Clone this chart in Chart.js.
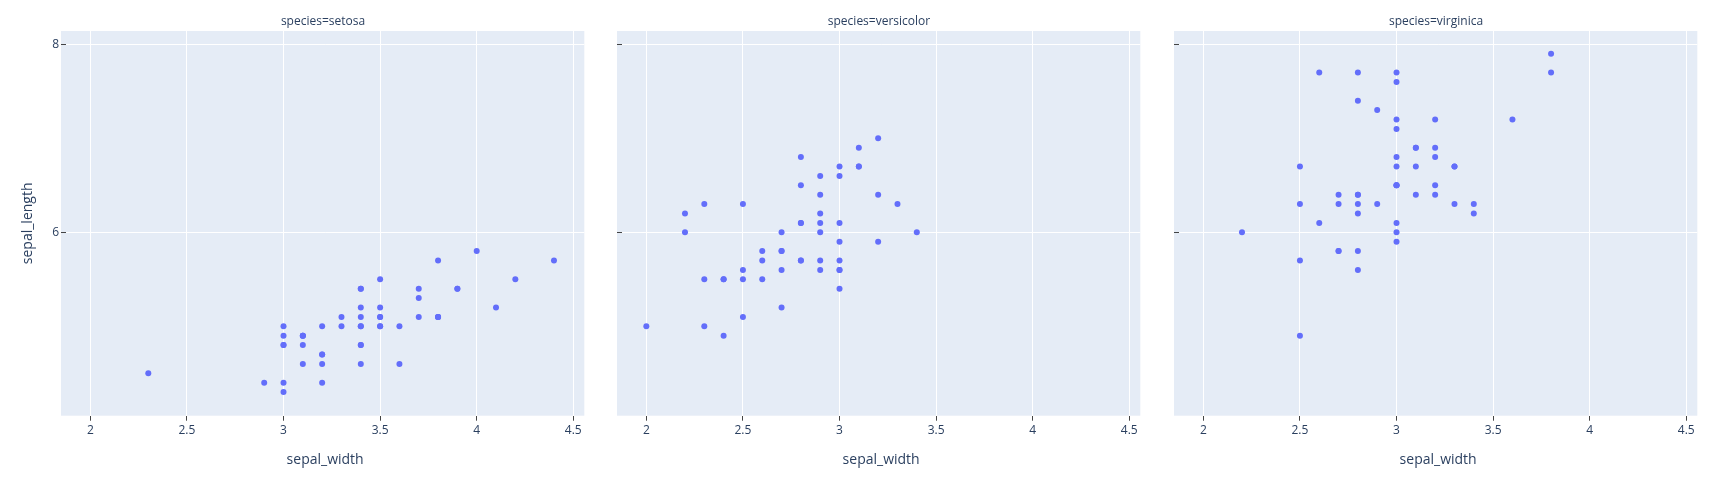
<!DOCTYPE html>
<html><head><meta charset="utf-8">
<script src="https://cdn.jsdelivr.net/npm/chart.js@4"></script>
<style>
html,body{margin:0;padding:0;background:#fff;}
#wrap{position:relative;width:1732px;height:481px;overflow:hidden;background:#fff;}
#wrap canvas{position:absolute;top:0;}
</style></head><body>
<div id="wrap">
<canvas id="c1"></canvas><canvas id="c2"></canvas><canvas id="c3"></canvas>
</div>
<script>
const speciesNames = ['setosa', 'versicolor', 'virginica'];

const setosaWidth = [3.5,3.0,3.2,3.1,3.6,3.9,3.4,3.4,2.9,3.1,3.7,3.4,3.0,3.0,4.0,4.4,3.9,3.5,3.8,3.8,3.4,3.7,3.6,3.3,3.4,3.0,3.4,3.5,3.4,3.2,3.1,3.4,4.1,4.2,3.1,3.2,3.5,3.1,3.0,3.4,3.5,2.3,3.2,3.5,3.8,3.0,3.8,3.2,3.7,3.3];
const setosaLength = [5.1,4.9,4.7,4.6,5.0,5.4,4.6,5.0,4.4,4.9,5.4,4.8,4.8,4.3,5.8,5.7,5.4,5.1,5.7,5.1,5.4,5.1,4.6,5.1,4.8,5.0,5.0,5.2,5.2,4.7,4.8,5.4,5.2,5.5,4.9,5.0,5.5,4.9,4.4,5.1,5.0,4.5,4.4,5.0,5.1,4.8,5.1,4.6,5.3,5.0];

const versicolorWidth = [3.2,3.2,3.1,2.3,2.8,2.8,3.3,2.4,2.9,2.7,2.0,3.0,2.2,2.9,2.9,3.1,3.0,2.7,2.2,2.5,3.2,2.8,2.5,2.8,2.9,3.0,2.8,3.0,2.9,2.6,2.4,2.4,2.7,2.7,3.0,3.4,3.1,2.3,3.0,2.5,2.6,3.0,2.6,2.3,2.7,3.0,2.9,2.9,2.5,2.8];
const versicolorLength = [7.0,6.4,6.9,5.5,6.5,5.7,6.3,4.9,6.6,5.2,5.0,5.9,6.0,6.1,5.6,6.7,5.6,5.8,6.2,5.6,5.9,6.1,6.3,6.1,6.4,6.6,6.8,6.7,6.0,5.7,5.5,5.5,5.8,6.0,5.4,6.0,6.7,6.3,5.6,5.5,5.5,6.1,5.8,5.0,5.6,5.7,5.7,6.2,5.1,5.7];

const virginicaWidth = [3.3,2.7,3.0,2.9,3.0,3.0,2.5,2.9,2.5,3.6,3.2,2.7,3.0,2.5,2.8,3.2,3.0,3.8,2.6,2.2,3.2,2.8,2.8,2.7,3.3,3.2,2.8,3.0,2.8,3.0,2.8,3.8,2.8,2.8,2.6,3.0,3.4,3.1,3.0,3.1,3.1,3.1,2.7,3.2,3.3,3.0,2.5,3.0,3.4,3.0];
const virginicaLength = [6.3,5.8,7.1,6.3,6.5,7.6,4.9,7.3,6.7,7.2,6.5,6.4,6.8,5.7,5.8,6.4,6.5,7.7,7.7,6.0,6.9,5.6,7.7,6.3,6.7,7.2,6.2,6.1,6.4,7.2,7.4,7.9,6.4,6.3,6.1,7.7,6.3,6.4,6.0,6.9,6.7,6.9,5.8,6.8,6.7,6.7,6.3,6.5,6.2,5.9];

const xTicks = [2, 2.5, 3, 3.5, 4, 4.5];
const xTickLabels = ['2', '2.5', '3', '3.5', '4', '4.5'];
const yTicks = [6, 8];
const yTickLabels = ['6', '8'];

const xTitle = 'sepal_width';
const yTitle = 'sepal_length';

Chart.defaults.font.family = "'Open Sans', verdana, arial, sans-serif";

const bgPlugin = {
  id: 'plotBg',
  beforeDraw(chart) {
    const a = chart.chartArea, ctx = chart.ctx;
    ctx.save();
    ctx.fillStyle = '#e5ecf6';
    ctx.fillRect(a.left - 5, a.top, a.right - a.left + 5, a.bottom - a.top);
    ctx.restore();
  }
};

function makePanel(id, left, xs, ys, name, first) {
  const cv = document.getElementById(id);
  cv.width = 646; cv.height = 481;
  cv.style.left = left + 'px';
  return new Chart(cv, {
    type: 'scatter',
    data: { datasets: [{
      data: xs.map((x, i) => ({ x: x, y: ys[i] })),
      backgroundColor: '#636efa', borderColor: '#636efa',
      pointRadius: 3, pointBorderWidth: 0, pointHoverRadius: 3
    }]},
    options: {
      responsive: false, animation: false, events: [],
      layout: { padding: 0 },
      plugins: {
        legend: { display: false }, tooltip: { enabled: false },
        title: { display: true, text: 'species=' + name, color: '#2a3f5f',
          font: { size: 12, weight: 'normal' }, padding: { top: 14, bottom: 2.6 } }
      },
      scales: {
        x: {
          type: 'linear', position: 'bottom', min: 1.874, max: 4.557,
          afterBuildTicks: s => { s.ticks = xTicks.map(v => ({ value: v })); },
          afterFit: s => { s.height = 65.3; },
          grid: { color: '#ffffff', lineWidth: 1, drawTicks: true, tickLength: 5, tickColor: '#444', tickWidth: 1 },
          border: { display: false },
          ticks: { autoSkip: false, maxRotation: 0, color: '#2a3f5f', font: { size: 12 }, padding: 3,
            callback: (v, i) => xTickLabels[i] },
          title: { display: true, text: xTitle, color: '#2a3f5f', font: { size: 14 }, padding: { top: 0, bottom: 13 } }
        },
        y: {
          type: 'linear', position: 'left', min: 4.049, max: 8.1415,
          afterBuildTicks: s => { s.ticks = yTicks.map(v => ({ value: v })); },
          afterFit: s => { s.width = 66; },
          grid: { color: '#ffffff', lineWidth: 1, drawTicks: true, tickLength: 5, tickColor: '#444', tickWidth: 1 },
          border: { display: false },
          ticks: { autoSkip: false, color: '#2a3f5f', font: { size: 12 }, padding: 2,
            callback: (v, i) => first ? yTickLabels[i] : '' },
          title: { display: first, text: yTitle, color: '#2a3f5f', font: { size: 14 }, padding: { top: 20, bottom: 0 } }
        },
        yR: {
          type: 'linear', position: 'right', display: true,
          afterFit: s => { s.width = 61.7; },
          grid: { display: false, drawTicks: false },
          border: { display: false },
          ticks: { display: false }
        }
      }
    },
    plugins: [bgPlugin]
  });
}

makePanel('c1', 0, setosaWidth, setosaLength, speciesNames[0], true);
makePanel('c2', 556, versicolorWidth, versicolorLength, speciesNames[1], false);
makePanel('c3', 1113, virginicaWidth, virginicaLength, speciesNames[2], false);
</script>
</body></html>
